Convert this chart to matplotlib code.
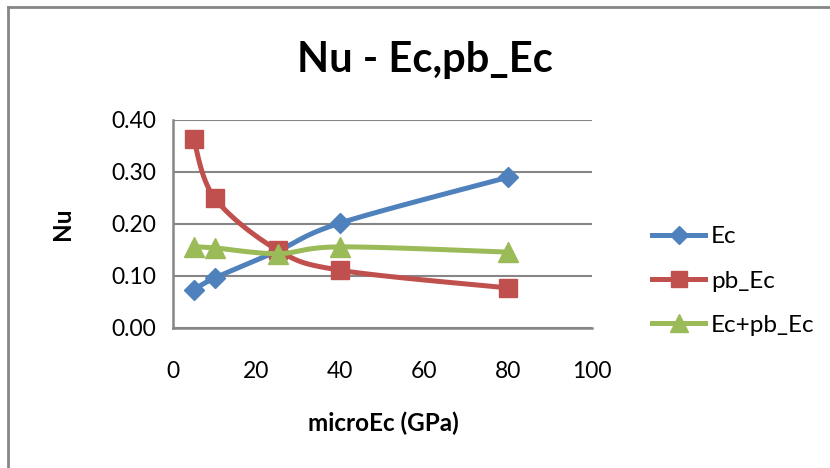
import numpy as np
import matplotlib
matplotlib.use("Agg")
from matplotlib import pyplot as plt
from matplotlib.lines import Line2D

plt.rcParams['font.family'] = ['Lato', 'DejaVu Sans']

# 数据
micro_ec = [5, 10, 25, 40, 80]
nu_ec = [0.073, 0.096, 0.148, 0.202, 0.290]
nu_pb_ec = [0.363, 0.250, 0.150, 0.111, 0.077]
nu_sum = [0.156, 0.154, 0.143, 0.156, 0.146]

x_ticks = [0, 20, 40, 60, 80, 100]
y_ticks = [0.0, 0.1, 0.2, 0.3, 0.4]

blue = "#4F81BD"
red = "#C0504D"
green = "#9BBB59"
grey = "#868686"


def smooth(xs, ys, n=30):
    # 平滑曲线(贝塞尔, 类似Excel)
    p = np.column_stack([xs, ys]).astype(float)
    out = [p[0]]
    for i in range(len(p) - 1):
        p0 = p[i - 1] if i > 0 else p[i]
        p1 = p[i]
        p2 = p[i + 1]
        p3 = p[i + 2] if i + 2 < len(p) else p[i + 1]
        c1 = p1 + (p2 - p0) / 6
        c2 = p2 - (p3 - p1) / 6
        t = np.linspace(0, 1, n)[1:, None]
        seg = ((1 - t) ** 3) * p1 + 3 * ((1 - t) ** 2) * t * c1 + 3 * (1 - t) * t ** 2 * c2 + t ** 3 * p2
        out.extend(seg)
    out = np.array(out)
    return out[:, 0], out[:, 1]


fig = plt.figure(figsize=(8.3, 4.68), dpi=100)
ax = fig.add_axes([172.7 / 830, 1 - 328 / 468, 419.3 / 830, 208 / 468])

series = [
    (nu_ec, "Ec", blue, "D", 9.7),
    (nu_pb_ec, "pb_Ec", red, "s", 13.5),
    (nu_sum, "Ec+pb_Ec", green, "^", 14.5),
]
handles = []
for k, (ys, name, c, m, ms) in enumerate(series):
    sx, sy = smooth(micro_ec, ys)
    ax.plot(sx, sy, color=c, lw=3.6, solid_capstyle="round", zorder=3 + k)
    ax.plot(micro_ec, ys, ls="none", marker=m, ms=ms, color=c, zorder=3 + k)
    handles.append(Line2D([], [], color=c, lw=3.6, marker=m, ms=ms * 0.9, label=name))

ax.set_xlim(0, 100)
ax.set_ylim(0, 0.4)
ax.set_xticks(x_ticks)
ax.set_yticks(y_ticks)
ax.set_yticklabels([f"{v:.2f}" for v in y_ticks])
ax.tick_params(axis="both", length=0, labelsize=16.5, colors="black")
ax.tick_params(axis="y", pad=12)
ax.tick_params(axis="x", pad=24)
ax.grid(axis="y", color=grey, lw=1.5)
ax.set_axisbelow(True)
for s in ["top", "right"]:
    ax.spines[s].set_visible(False)
for s in ["left", "bottom"]:
    ax.spines[s].set_color(grey)
    ax.spines[s].set_linewidth(1.8)

fig.text(425 / 830, 1 - 60 / 468, "Nu - Ec,pb_Ec", fontsize=30, fontweight="bold",
         ha="center", va="center")
fig.text(62 / 830, 1 - 224 / 468, "Nu", fontsize=17.5, fontweight="bold",
         rotation=90, ha="center", va="center")
fig.text(383 / 830, 1 - 423 / 468, "microEc (GPa)", fontsize=17.5, fontweight="bold",
         ha="center", va="center")

fig.legend(handles=handles, loc="center left", bbox_to_anchor=(652 / 830, 1 - 281 / 468),
           frameon=False, fontsize=17.5, borderpad=0, borderaxespad=0,
           handlelength=2.2, handletextpad=0.22, labelspacing=0.95)

# 外框
fig.add_artist(Line2D([8 / 830, 8 / 830], [0, 1 - 7 / 468], color=grey, lw=2))
fig.add_artist(Line2D([8 / 830, 1], [1 - 7 / 468, 1 - 7 / 468], color=grey, lw=2))

fig.savefig("out.png", dpi=100)
